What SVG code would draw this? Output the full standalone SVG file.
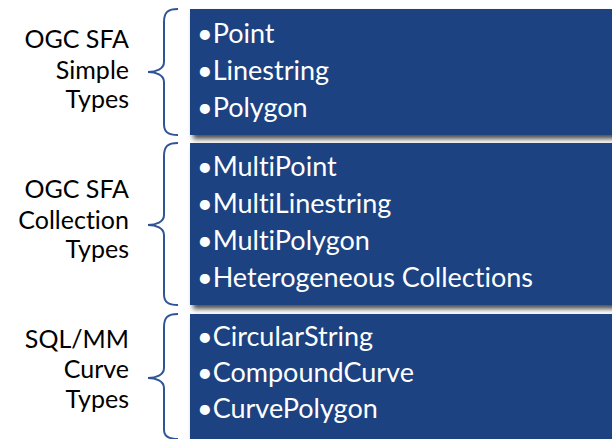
<svg xmlns="http://www.w3.org/2000/svg" width="612" height="439" viewBox="0 0 612 439">
  <style>
    .box { fill: #1e4381; filter: url(#shadow); }
    .item { font-family: Lato, "Liberation Sans", sans-serif; font-size: 27px; fill: #ffffff; font-variant-ligatures: none; }
    .label { font-family: Lato, "Liberation Sans", sans-serif; font-size: 25px; fill: #000000; text-anchor: end; font-variant-ligatures: none; }
    .brace { fill: none; stroke: #2f5597; stroke-width: 2; }
  </style>
  <defs>
    <filter id="shadow" x="-5%" y="-10%" width="115%" height="130%">
      <feGaussianBlur in="SourceAlpha" stdDeviation="2.5"/>
      <feOffset dx="3" dy="4" result="blur"/>
      <feComponentTransfer><feFuncA type="linear" slope="0.7"/></feComponentTransfer>
      <feMerge><feMergeNode/><feMergeNode in="SourceGraphic"/></feMerge>
    </filter>
  </defs>
  <rect width="612" height="439" fill="#ffffff"/>

  <g id="connectors">
    <path class="brace" d="M178,9 C168,9 164,12 164,22 L164,62 C164,69 156,72 148,72 C156,72 164,75 164,82 L164,124 C164,132 168,135 178,135"/>
    <path class="brace" d="M178,143 C168,143 164,146 164,156 L164,215 C164,222 156,225 148,225 C156,225 164,228 164,235 L164,294 C164,302 168,305 178,305"/>
    <path class="brace" d="M178,314 C168,314 164,317 164,327 L164,368 C164,375 156,378 148,378 C156,378 164,381 164,388 L164,430 C164,436 168,439 178,439"/>
  </g>

  <g id="simple-types">
    <text class="label"><tspan x="129" y="48">OGC SFA</tspan><tspan x="129" y="79">Simple</tspan><tspan x="129" y="108">Types</tspan></text>
    <rect class="box" x="190" y="9" width="440" height="126"/>
    <text class="item"><tspan x="197" y="43">•Point</tspan><tspan x="197" y="80">•Linestring</tspan><tspan x="197" y="117">•Polygon</tspan></text>
  </g>

  <g id="collection-types">
    <text class="label"><tspan x="129" y="198">OGC SFA</tspan><tspan x="129" y="229">Collection</tspan><tspan x="129" y="258">Types</tspan></text>
    <rect class="box" x="190" y="143" width="440" height="162"/>
    <text class="item"><tspan x="197" y="176">•MultiPoint</tspan><tspan x="197" y="213">•MultiLinestring</tspan><tspan x="197" y="250">•MultiPolygon</tspan><tspan x="197" y="287">•Heterogeneous Collections</tspan></text>
  </g>

  <g id="curve-types">
    <text class="label"><tspan x="129" y="348">SQL/MM</tspan><tspan x="129" y="378">Curve</tspan><tspan x="129" y="408">Types</tspan></text>
    <rect class="box" x="190" y="314" width="440" height="140"/>
    <text class="item"><tspan x="197" y="346">•CircularString</tspan><tspan x="197" y="382">•CompoundCurve</tspan><tspan x="197" y="418">•CurvePolygon</tspan></text>
  </g>
</svg>
